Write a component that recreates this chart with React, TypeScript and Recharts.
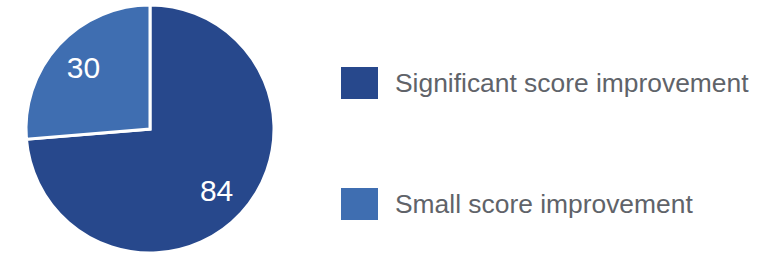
import React from "react";
import { PieChart, Pie, Cell, Legend } from "recharts";

const categories = ["Significant score improvement", "Small score improvement"];
const values = [84, 30];
const colors = ["#27488C", "#3F6EB1"];

const data = categories.map((name, i) => ({ name, value: values[i] }));

const RAD = Math.PI / 180;

const renderLabel = (props: any) => {
  const { cx, cy, midAngle, outerRadius, value } = props;
  const r = outerRadius * 0.73;
  const x = cx + r * Math.cos(-midAngle * RAD);
  const y = cy + r * Math.sin(-midAngle * RAD);
  return (
    <text
      x={x}
      y={y}
      fill="#ffffff"
      textAnchor="middle"
      dominantBaseline="central"
      fontSize={30}
      fontFamily="'Liberation Sans', Arial, sans-serif"
    >
      {value}
    </text>
  );
};

const renderLegend = () => (
  <div style={{ fontFamily: "'Liberation Sans', Arial, sans-serif" }}>
    {categories.map((c, i) => (
      <div
        key={c}
        style={{
          display: "flex",
          alignItems: "center",
          height: 32,
          marginBottom: i === 0 ? 89 : 0,
        }}
      >
        <div style={{ width: 37, height: 32, background: colors[i] }} />
        <span
          style={{
            marginLeft: 17,
            fontSize: 26.4,
            color: "#606369",
            lineHeight: "32px",
            whiteSpace: "nowrap",
          }}
        >
          {c}
        </span>
      </div>
    ))}
  </div>
);

export default function App() {
  return (
    <div style={{ position: "absolute", left: 0, top: 0, background: "#fff" }}>
      <PieChart width={758} height={253} margin={{ top: 0, right: 0, bottom: 0, left: 0 }}>
        <Pie
          data={data}
          dataKey="value"
          nameKey="name"
          cx={150}
          cy={129}
          outerRadius={124}
          startAngle={90}
          endAngle={-270}
          stroke="#ffffff"
          strokeWidth={3}
          label={renderLabel}
          labelLine={false}
          isAnimationActive={false}
        >
          {data.map((d, i) => (
            <Cell key={d.name} fill={colors[i]} />
          ))}
        </Pie>
        <Legend
          content={renderLegend}
          layout="vertical"
          wrapperStyle={{ position: "absolute", left: 341, top: 67, width: 417 }}
        />
      </PieChart>
    </div>
  );
}
